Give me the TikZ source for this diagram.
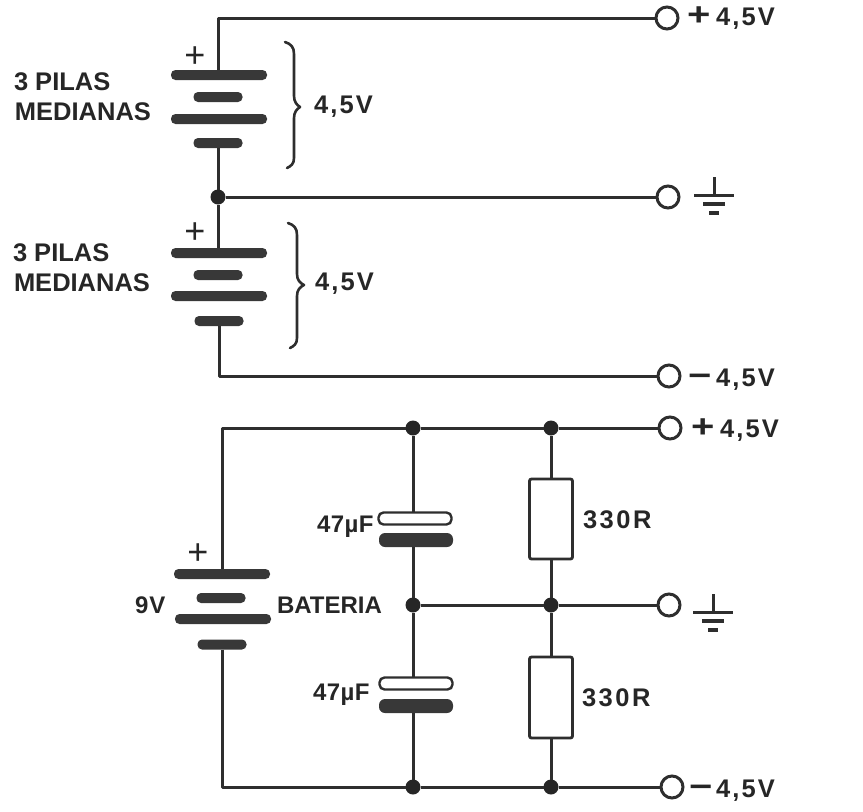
\documentclass[tikz,border=0pt]{standalone}
\usepackage{fontspec}
\setmainfont{Liberation Sans}
\newcommand{\lblfont}[1][0]{\fontsize{24}{26}\selectfont\bfseries\addfontfeature{LetterSpace=#1}}
\newcommand{\bigfont}[1][0]{\fontsize{25.5}{27}\selectfont\bfseries\addfontfeature{LetterSpace=#1}}
\newcommand{\termlabel}[2]{\mbox{\makebox[#1pt][l]{\raisebox{0pt}{\fontsize{32}{32}\selectfont\bfseries\scalebox{1.25}[1]{#2}}}\bigfont[8.5]4,5V}}
\tikzset{
  ink/.style={draw=black!82,line width=3pt},
  wire/.style={ink,line join=round},
  platebase/.style={rectangle,inner sep=0pt,outer sep=0pt,rounded corners=4.5pt,fill=black!78},
  longplate/.style={platebase,minimum width=96pt,minimum height=10pt},
  shortplate/.style={platebase,minimum width=49pt,minimum height=10pt},
  capfill/.style={platebase,minimum width=74pt,minimum height=14pt,rounded corners=6pt},
  capopen/.style={rectangle,inner sep=0pt,outer sep=0pt,rounded corners=5pt,draw=black!82,line width=2.4pt,fill=white,minimum width=73pt,minimum height=12pt},
  resbox/.style={rectangle,inner sep=0pt,outer sep=0pt,rounded corners=2pt,draw=black!82,line width=2.8pt,fill=white,minimum width=43pt,minimum height=80pt},
  junction/.style={circle,fill=black!85,inner sep=0pt,outer sep=0pt,minimum size=15pt},
  terminal/.style={circle,draw=black!82,line width=3pt,fill=white,inner sep=0pt,outer sep=0pt,minimum size=22pt},
  txt/.style={inner sep=0pt,outer sep=0pt,anchor=west,text=black!85,font=\lblfont},
  bigtxt/.style={txt,font=\bigfont},
  plus/.style={inner sep=0pt,outer sep=0pt,text=black!85,font=\fontsize{36}{36}\selectfont},
  bracepath/.style={draw=black!82,line width=2.6pt,line cap=round,line join=round},
  gndsym/.pic={
    \draw[ink] (0,-18) -- (0,0);
    \draw[ink] (-20,0) -- (20,0);
    \draw[ink,line width=3.4pt] (-11,9) -- (11,9);
    \draw[ink,line width=3.8pt] (-5,18) -- (5,18);
  }
}
\begin{document}
\begin{tikzpicture}[x=1pt,y=-1pt]
\useasboundingbox (0,0) rectangle (863,812);
% top circuit
\node[terminal] (t1) at (667,18) {};
\node[terminal] (t2) at (668,197) {};
\node[terminal] (t3) at (669,376) {};
\node[longplate]  (a1) at (219,75) {};
\node[shortplate] (a2) at (218,97) {};
\node[longplate]  (a3) at (219,119) {};
\node[shortplate] (a4) at (218,143) {};
\node[junction]   (j0) at (218,197) {};
\node[longplate]  (b1) at (219,253) {};
\node[shortplate] (b2) at (218,275) {};
\node[longplate]  (b3) at (219,296) {};
\node[shortplate] (b4) at (219,321) {};
\draw[wire] (a1.north -| j0) |- (t1);
\draw[wire] (a4.south -| j0) -- (j0);
\draw[wire] (j0) -- (t2);
\draw[wire] (j0) -- (b1.north -| j0);
\draw[wire] (b4.south) |- (t3);
\draw[bracepath] (285,42) .. controls (291,44) and (294,47) .. (294,54) -- (294,96) .. controls (294,102) and (297,105) .. (300,107) .. controls (297,109) and (294,112) .. (294,118) -- (294,158) .. controls (294,164) and (291,166) .. (287,168);
\draw[bracepath] (288,223) .. controls (294,225) and (297,228) .. (297,235) -- (297,274) .. controls (297,280) and (300,283) .. (304,285) .. controls (300,287) and (297,290) .. (297,296) -- (297,338) .. controls (297,344) and (294,346) .. (290,348);
\node[plus] (p1) at (195,57) {+};
\node[plus] (p2) at (195,233) {+};
\node[bigtxt] (l1) at (14,82) {3 PILAS};
\node[bigtxt] (l2) at (15,112) {MEDIANAS};
\node[bigtxt] (l3) at (13,253) {3 PILAS};
\node[bigtxt] (l4) at (14,283) {MEDIANAS};
\node[txt,font={\bigfont[8.5]}] (v1) at (314,107) {4,5V};
\node[txt,font={\bigfont[8.5]}] (v2) at (315,284) {4,5V};
\node[txt] (o1) at (687,18) {\termlabel{29}{+}};
\pic at (714,195) {gndsym};
\node[txt] (o3) at (688,380) {\termlabel{28}{−}};
% bottom circuit
\node[terminal] (t4) at (670,428) {};
\node[terminal] (t5) at (669,605) {};
\node[terminal] (t6) at (672,787) {};
\node[junction] (d1) at (413,428) {};
\node[junction] (d2) at (551,428) {};
\node[junction] (d3) at (413,605) {};
\node[junction] (d4) at (551,605) {};
\node[junction] (d5) at (413,787) {};
\node[junction] (d6) at (551,787) {};
\node[longplate]  (c1) at (222,574) {};
\node[shortplate] (c2) at (221,598) {};
\node[longplate]  (c3) at (223,619) {};
\node[shortplate] (c4) at (222,644.5) {};
\node[capopen] (k1) at (415,518.5) {};
\node[capfill] (k2) at (416,540) {};
\node[capopen] (k3) at (416,683.5) {};
\node[capfill] (k4) at (416,706) {};
\node[resbox] (r1) at (551,519) {};
\node[resbox,minimum height=81pt] (r2) at (551,697.5) {};
\draw[wire] (c1.north) |- (d1);
\draw[wire] (d1) -- (d2);
\draw[wire] (d2) -- (t4);
\draw[wire] (c4.south) |- (d5);
\draw[wire] (d5) -- (d6);
\draw[wire] (d6) -- (t6);
\draw[wire] (d3) -- (d4);
\draw[wire] (d4) -- (t5);
\draw[wire] (d1) -- (k1.north -| d1);
\draw[wire] (k2.south -| d1) -- (d3);
\draw[wire] (d3) -- (k3.north -| d3);
\draw[wire] (k4.south -| d5) -- (d5);
\draw[wire] (d2) -- (r1);
\draw[wire] (r1) -- (d4);
\draw[wire] (d4) -- (r2);
\draw[wire] (r2) -- (d6);
\node[plus] (p3) at (198,554) {+};
\node[txt,font={\lblfont[4]}] (n1) at (135,605) {9V};
\node[txt] (n2) at (277,605) {BATERIA};
\node[txt,font={\lblfont[2]}] (n3) at (317,527) {47µF};
\node[txt,font={\lblfont[2]}] (n4) at (313,695) {47µF};
\node[txt,font={\bigfont[10]}] (n5) at (583,520) {330R};
\node[txt,font={\bigfont[10]}] (n6) at (582,698) {330R};
\node[txt] (o4) at (691,430) {\termlabel{29}{+}};
\pic at (713,612) {gndsym};
\node[txt] (o6) at (689,791) {\termlabel{27}{−}};
\end{tikzpicture}
\end{document}
